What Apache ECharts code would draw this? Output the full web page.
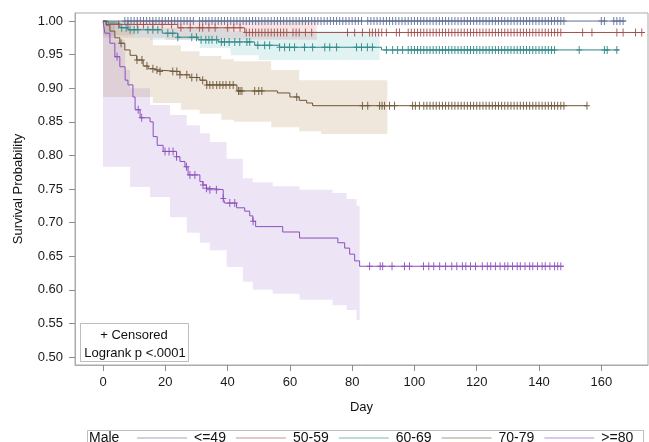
<!DOCTYPE html>
<html><head><meta charset="utf-8">
<script src="https://cdn.jsdelivr.net/npm/echarts@6/dist/echarts.min.js"></script>
<style>html,body{margin:0;padding:0;background:#fff}#c{width:649px;height:442px}</style>
</head><body><div id="c"></div>
<script>
// ---------- data ----------
const groupNames = ['<=49', '50-59', '60-69', '70-79', '>=80'];
const xTicks = [0, 20, 40, 60, 80, 100, 120, 140, 160];
const yTicks = [0.50, 0.55, 0.60, 0.65, 0.70, 0.75, 0.80, 0.85, 0.90, 0.95, 1.00];

// Kaplan-Meier steps: event times and survival after each event; last follow-up time
const g49Times = [0];
const g49Surv = [1.0];
const g49End = 168;
const g49Censor = [7,8,9,10,11,12,13,14,15,16,17,18,19,20,21,22,23,24,25,26,27,28,29,31,32,33,34,35,36,37,38,39,40,41,42,43,44,45,46,47,48,49,50,51,52,53,54,55,56,57,58,59,60,61,62,63,64,65,66,67,68,69,70,71,72,73,74,75,76,77,78,79,80,81,82,83,85,86,87,88,89,90,91,92,93,94,95,96,97,98,99,100,101,102,103,104,105,106,107,108,109,110,111,112,113,114,115,116,117,118,119,120,121,122,123,124,125,126,127,128,129,130,131,132,133,134,135,136,137,138,139,140,141,142,143,144,145,146,147,148,160,161,164,165,166,167];

const g50Times = [0, 1, 24, 45.5];
const g50Surv = [1.0, 0.995, 0.990, 0.983];
const g50End = 174;
const g50Censor = [5,8,11,13,16,19,22,25,28,31,32,34,36,40,42,44,46,47,48,49,50,51,52,53,54,55,56,57,58,59,61,62,63,65,67,78.5,80.8,83.3,85.6,86.5,87.5,88.5,89.5,91,94.2,95.2,98,99,100,101,102,103,104,105,106,107,108,109,110,111,112,113,114,115,116,117,118,119,120,121,122,123,124,125,126,127,128,129,130,131,132,133,134,135,136,137,138,139,140,141,142,143,144,145,146,147,154,157,165,167,171,173];
const g50BandT = [0, 20];
const g50BandHi = [1.0, 1.0];
const g50BandLo = [0.975, 0.972];
const g50BandEnd = 68.6;

const g60Times = [0, 1.6, 5.4, 8, 19, 24, 30.5, 37, 48.7, 56.7, 89.4];
const g60Surv = [1.0, 0.997, 0.990, 0.987, 0.982, 0.976, 0.972, 0.969, 0.964, 0.961, 0.957];
const g60End = 165.7;
const g60Censor = [6,7.4,8.7,10,11.2,14.4,16,17.6,20.8,22.4,24,28.5,30,31.5,33,34,35,36.5,38,39,40.5,42.3,43.9,46.2,47.1,49.7,51.9,53.5,56.7,58.3,59.9,61.5,64.7,67.3,71.2,72.8,75,81.4,83,84.9,86.5,91,93,94.6,96.2,98,99,100,101,102,103,104,105,106,107,108,109,110,111,112,113,114,115,116,117,118,119,120,121,122,123,124,125,126,127,128,129,130,131,132,133,134,135,136,137,138,139,140,141,142,143,144,145,152.9,161,161.9,165];
const g60BandT = [0, 10, 15, 31, 41, 50];
const g60BandHi = [1.0, 0.99, 0.99, 0.99, 0.985, 0.985];
const g60BandLo = [0.979, 0.975, 0.972, 0.960, 0.949, 0.942];
const g60BandEnd = 88.8;

const g70Times = [0, 1, 2.2, 3.8, 5.4, 7, 8.7, 10.8, 12.9, 14.5, 16.1, 17.7, 24.7, 27.9, 31.1, 33.3, 43, 56, 60, 63, 65.4, 67.3];
const g70Surv = [1.0, 0.994, 0.985, 0.975, 0.967, 0.957, 0.949, 0.942, 0.933, 0.929, 0.927, 0.925, 0.920, 0.916, 0.912, 0.905, 0.896, 0.893, 0.887, 0.882, 0.878, 0.874];
const g70End = 155.5;
const g70Censor = [5.8,10.9,12.5,14.1,16,17.3,18.3,22.4,23.7,24.7,26.9,28.5,30.1,32,33.3,34.3,35.3,36.5,37.5,38.5,39.5,40.7,41.8,43.5,44,44.6,48.7,50,51,62.2,83.3,85,88.8,89.6,90.4,92,93.6,99.4,100.3,101.6,103,104,105,106,107,108,109,110,111,112,113,114,115,116,117,118,119,120,121,122,123,124,125,126,127,128,129,130,131,132,133,134,135,136,137,138,139,140,141,142,143,144,145,146,147,148,155.4];
const g70BandT = [0, 5, 10, 16, 25, 31, 38, 42, 54, 63, 70];
const g70BandHi = [1.0, 0.987, 0.975, 0.964, 0.955, 0.948, 0.943, 0.940, 0.927, 0.912, 0.912];
const g70BandLo = [0.887, 0.887, 0.887, 0.878, 0.868, 0.862, 0.853, 0.850, 0.842, 0.836, 0.832];
const g70BandEnd = 91.3;

const g80Times = [0, 0.6, 2.2, 3.8, 5.4, 7.1, 8.0, 9.6, 10.3, 11.9, 15.1, 16.1, 17.4, 19.3, 23.6, 24.7, 26.3, 27.3, 31.1, 32.1, 33.2, 34.3, 38.6, 39.1, 42.9, 45.5, 47.1, 48.1, 49, 57.7, 63.1, 75.4, 77.6, 79.2, 80.8, 82.4];
const g80Surv = [1.0, 0.982, 0.967, 0.947, 0.932, 0.912, 0.905, 0.887, 0.868, 0.856, 0.850, 0.828, 0.815, 0.806, 0.798, 0.791, 0.783, 0.771, 0.761, 0.756, 0.751, 0.749, 0.736, 0.729, 0.722, 0.717, 0.710, 0.702, 0.694, 0.686, 0.677, 0.670, 0.662, 0.653, 0.643, 0.635];
const g80End = 148;
const g80Censor = [4.5,11.3,12.4,19.9,21.2,22.5,23.6,26.8,27.9,29.5,32.1,33.2,34.3,36.4,38.6,40.7,42.3,48.2,85.6,89,89.8,92.8,96.8,98.4,102.9,104.6,106.2,108.1,110,112,113.6,115.4,116.5,118,119.6,121.8,123.4,124.5,126,127.5,129,130,131.5,133,134,135.5,137,138,139.5,141,142,143.5,145,146,147];
const g80BandT = [0, 3.8, 7.1, 8.7, 15.1, 21.5, 26.9, 31.1, 34.3, 39.7, 44.9, 48.1, 54.5, 63.1, 73.7, 78.2, 81.4];
const g80BandHi = [1.0, 0.972, 0.927, 0.900, 0.875, 0.860, 0.845, 0.833, 0.820, 0.795, 0.766, 0.760, 0.754, 0.749, 0.744, 0.735, 0.725];
const g80BandLo = [0.783, 0.783, 0.783, 0.753, 0.738, 0.708, 0.685, 0.670, 0.659, 0.634, 0.612, 0.600, 0.594, 0.585, 0.577, 0.570, 0.555];
const g80BandEnd = 82.4;

// ---------- styling ----------
const lineColors = ['#5f6f95', '#a4504c', '#2b8585', '#6b5636', '#8c4fbd'];
const bandFills = ['rgba(0,0,0,0)', 'rgba(215,95,95,0.17)', 'rgba(40,165,165,0.14)', 'rgba(190,155,110,0.24)', 'rgba(145,85,195,0.16)'];
const FONT = 'Liberation Sans, Arial, sans-serif';

const groups = [
  {t: g49Times, s: g49Surv, end: g49End, c: g49Censor, band: null},
  {t: g50Times, s: g50Surv, end: g50End, c: g50Censor, band: {t: g50BandT, hi: g50BandHi, lo: g50BandLo, end: g50BandEnd}},
  {t: g60Times, s: g60Surv, end: g60End, c: g60Censor, band: {t: g60BandT, hi: g60BandHi, lo: g60BandLo, end: g60BandEnd}},
  {t: g70Times, s: g70Surv, end: g70End, c: g70Censor, band: {t: g70BandT, hi: g70BandHi, lo: g70BandLo, end: g70BandEnd}},
  {t: g80Times, s: g80Surv, end: g80End, c: g80Censor, band: {t: g80BandT, hi: g80BandHi, lo: g80BandLo, end: g80BandEnd}}
];

function survAt(times, surv, x) {
  let v = surv[0];
  for (let i = 0; i < times.length; i++) { if (times[i] <= x) v = surv[i]; }
  return v;
}

const plus = 'path://M2.5,0H3.5V3.5H6V4.5H3.5V8H2.5V4.5H0V3.5H2.5Z';
const series = [];

groups.forEach((g, k) => {
  if (g.band) {
    const b = g.band;
    series.push({
      type: 'custom', name: groupNames[k] + ' CB', silent: true, z: 1,
      data: [[0, 1]],
      renderItem: function (params, api) {
        const pts = [];
        for (let i = 0; i < b.t.length; i++) {
          const t1 = i + 1 < b.t.length ? b.t[i + 1] : b.end;
          pts.push(api.coord([b.t[i], b.hi[i]]));
          pts.push(api.coord([t1, b.hi[i]]));
        }
        for (let i = b.t.length - 1; i >= 0; i--) {
          const t1 = i + 1 < b.t.length ? b.t[i + 1] : b.end;
          pts.push(api.coord([t1, b.lo[i]]));
          pts.push(api.coord([b.t[i], b.lo[i]]));
        }
        return {type: 'polygon', shape: {points: pts}, style: {fill: bandFills[k]}};
      }
    });
  }
});

groups.forEach((g, k) => {
  const data = g.t.map((t, i) => [t, g.s[i]]);
  data.push([g.end, g.s[g.s.length - 1]]);
  series.push({
    type: 'line', name: groupNames[k], step: 'end', symbol: 'none', z: 3,
    data: data,
    lineStyle: {width: 1, color: lineColors[k]},
    itemStyle: {color: lineColors[k]}
  });
});

groups.forEach((g, k) => {
  series.push({
    type: 'scatter', name: groupNames[k] + ' censored', silent: true, z: 4,
    symbol: plus, symbolSize: [6, 8],
    itemStyle: {color: lineColors[k], opacity: 0.9},
    data: g.c.map(x => [x, survAt(g.t, g.s, x)])
  });
});

const chart = echarts.init(document.getElementById('c'), null, {renderer: 'canvas'});
chart.setOption({
  animation: false,
  backgroundColor: '#fff',
  grid: {left: 75, right: 1, top: 13, bottom: 77, show: true, borderColor: '#aaaaaa', borderWidth: 1},
  xAxis: {
    type: 'value', min: -9, max: 175,
    name: 'Day', nameLocation: 'middle', nameGap: 36,
    nameTextStyle: {fontFamily: FONT, fontSize: 13, color: '#111'},
    axisLine: {show: true, onZero: false, lineStyle: {color: '#aaaaaa'}},
    axisTick: {show: true, length: 6, lineStyle: {color: '#8c8c8c'}, customValues: xTicks},
    axisLabel: {fontFamily: FONT, fontSize: 13, color: '#1a1a1a', margin: 11, customValues: xTicks, formatter: v => String(Math.round(v))},
    splitLine: {show: false}
  },
  yAxis: {
    type: 'value', min: 0.488, max: 1.012,
    name: 'Survival Probability', nameLocation: 'middle', nameGap: 50,
    nameTextStyle: {fontFamily: FONT, fontSize: 13, color: '#111'},
    axisLine: {show: true, onZero: false, lineStyle: {color: '#aaaaaa'}},
    axisTick: {show: true, length: 6, lineStyle: {color: '#8c8c8c'}, customValues: yTicks},
    axisLabel: {fontFamily: FONT, fontSize: 13, color: '#1a1a1a', margin: 12, customValues: yTicks, formatter: v => v.toFixed(2)},
    splitLine: {show: false}
  },
  legend: {
    data: groupNames, left: 137, top: 431, padding: 0,
    icon: 'rect', itemWidth: 50, itemHeight: 1, itemGap: 10,
    itemStyle: {opacity: 0.6},
    textStyle: {fontFamily: FONT, fontSize: 14, color: '#111', padding: [0, 0, 0, 2]},
    selectedMode: false
  },
  graphic: [
    {type: 'rect', left: 80, top: 323, shape: {width: 108, height: 38}, style: {fill: '#fff', stroke: '#bdbdbd', lineWidth: 1}, z: 10},
    {type: 'text', x: 134, y: 335, style: {text: '+ Censored', font: '13px ' + FONT, fill: '#111', textAlign: 'center', textVerticalAlign: 'middle'}, z: 11},
    {type: 'text', x: 135, y: 353, style: {text: 'Logrank p <.0001', font: '13px ' + FONT, fill: '#111', textAlign: 'center', textVerticalAlign: 'middle'}, z: 11},
    {type: 'rect', left: 85, top: 428, shape: {width: 556, height: 30}, style: {fill: 'none', stroke: '#bdbdbd', lineWidth: 1}, z: 10},
    {type: 'text', x: 89, y: 438, style: {text: 'Male', font: '14px ' + FONT, fill: '#111', textVerticalAlign: 'middle'}, z: 11}
  ],
  series: series
});
</script>
</body></html>
